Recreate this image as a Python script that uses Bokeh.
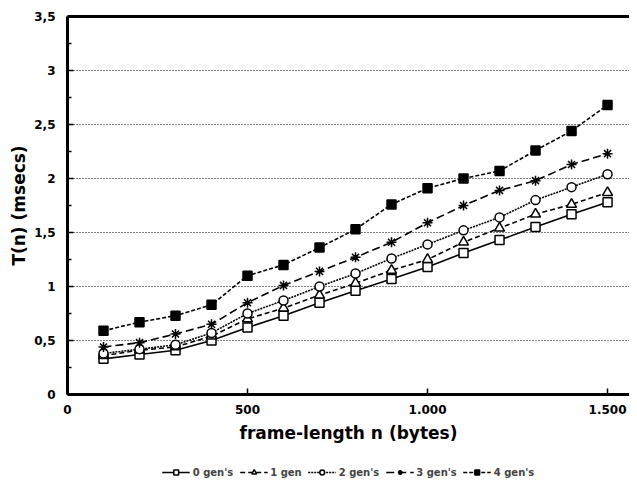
from bokeh.plotting import figure
from bokeh.layouts import column
from bokeh.models import FixedTicker, LinearAxis, Legend, LegendItem, Range1d
from bokeh.embed import file_html
from bokeh.resources import INLINE

frame_length = [100, 200, 300, 400, 500, 600, 700, 800, 900, 1000, 1100, 1200, 1300, 1400, 1500]
gen0 = [0.33, 0.37, 0.41, 0.50, 0.62, 0.73, 0.85, 0.96, 1.07, 1.18, 1.31, 1.43, 1.55, 1.67, 1.78]
gen1 = [0.36, 0.41, 0.44, 0.54, 0.70, 0.80, 0.92, 1.03, 1.15, 1.25, 1.41, 1.54, 1.67, 1.76, 1.87]
gen2 = [0.38, 0.42, 0.46, 0.57, 0.75, 0.87, 1.00, 1.12, 1.26, 1.39, 1.52, 1.64, 1.80, 1.92, 2.04]
gen3 = [0.44, 0.48, 0.56, 0.65, 0.85, 1.01, 1.14, 1.27, 1.41, 1.59, 1.75, 1.89, 1.98, 2.13, 2.23]
gen4 = [0.59, 0.67, 0.73, 0.83, 1.10, 1.20, 1.36, 1.53, 1.76, 1.91, 2.00, 2.07, 2.26, 2.44, 2.68]

series_names = ["0 gen's", "1 gen", "2 gen's", "3 gen's", "4 gen's"]
x_ticks = [0, 500, 1000, 1500]
x_tick_labels = ["0", "500", "1.000", "1.500"]
y_ticks = [0, 0.5, 1, 1.5, 2, 2.5, 3, 3.5]
y_tick_labels = ["0", "0,5", "1", "1,5", "2", "2,5", "3", "3,5"]
y_minor = [0.25, 0.75, 1.25, 1.75, 2.25, 2.75, 3.25]

FONT = "DejaVu Sans"

p = figure(width=629, height=450, output_backend="svg", toolbar_location=None,
           x_range=Range1d(0, 1561), y_range=Range1d(0, 3.5),
           min_border_left=67, min_border_top=16, min_border_right=0, min_border_bottom=56)
p.outline_line_color = None
p.background_fill_color = "white"
p.border_fill_color = "white"

p.xgrid.visible = False
p.ygrid.ticker = FixedTicker(ticks=y_ticks)
p.ygrid.grid_line_color = "black"
p.ygrid.grid_line_dash = "1 2"
p.ygrid.grid_line_width = 1

xa = p.xaxis[0]
xa.ticker = FixedTicker(ticks=x_ticks)
xa.major_label_overrides = dict(zip(x_ticks, x_tick_labels))
xa.axis_label = "frame-length n (bytes)"
ya = p.yaxis[0]
ya.ticker = FixedTicker(ticks=y_ticks, minor_ticks=y_minor)
ya.major_label_overrides = dict(zip(y_ticks, y_tick_labels))
ya.axis_label = "T(n) (msecs)"
for ax in (xa, ya):
    ax.axis_line_width = 3
    ax.axis_line_color = "black"
    ax.major_tick_in = 6
    ax.major_tick_out = 0
    ax.minor_tick_in = 4
    ax.minor_tick_out = 0
    ax.major_tick_line_width = 1.5
    ax.minor_tick_line_width = 1.5
    ax.major_label_text_font = FONT
    ax.major_label_text_font_style = "bold"
    ax.major_label_text_font_size = "12px"
    ax.major_label_text_color = "black"
    ax.axis_label_text_font = FONT
    ax.axis_label_text_font_style = "bold"
    ax.axis_label_text_font_size = "17px"
    ax.axis_label_text_color = "black"
xa.minor_tick_line_color = None
xa.axis_label_standoff = 6
xa.major_label_standoff = 10
ya.axis_label_standoff = 2
ya.major_label_standoff = 12

top = LinearAxis(axis_line_width=3, major_tick_line_color=None, minor_tick_line_color=None,
                 major_label_text_font_size="0px", ticker=FixedTicker(ticks=[]))
p.add_layout(top, "above")

styles = [
    ("solid", "square", "white", 9),
    ("5 3", "triangle", "white", 10),
    ("2 1", "circle", "white", 9),
    ("8 4", "asterisk", "white", 10),
    ("4 2", "square", "black", 9),
]
data = [gen0, gen1, gen2, gen3, gen4]
for ys, (dash, marker, fill, size) in zip(data, styles):
    p.line(frame_length, ys, line_color="black", line_width=1.6, line_dash=dash)
    p.scatter(frame_length, ys, marker=marker, size=size, fill_color=fill,
              line_color="black", line_width=1.5)

# legend strip below the chart (its renderers lie outside its own empty view)
p2 = figure(width=629, height=30, output_backend="svg", toolbar_location=None,
            x_range=Range1d(-1, 0), y_range=Range1d(-1, 0),
            min_border_left=0, min_border_right=0, min_border_top=0, min_border_bottom=0)
p2.axis.visible = False
p2.grid.visible = False
p2.outline_line_color = None
items = []
for name, ys, (dash, marker, fill, size) in zip(series_names, data, styles):
    ln = p2.line(frame_length, ys, line_color="black", line_width=1.6, line_dash=dash)
    sc = p2.scatter(frame_length, ys, marker=marker, size=size - 1, fill_color=fill,
                    line_color="black", line_width=1.5)
    items.append(LegendItem(label=name, renderers=[ln, sc]))

legend = Legend(items=items, orientation="horizontal", location="bottom_center",
                label_text_font=FONT, label_text_font_style="bold",
                label_text_font_size="10px", glyph_width=28, glyph_height=12,
                spacing=6, label_standoff=3, border_line_color=None,
                background_fill_alpha=0, margin=2, padding=2)
p2.add_layout(legend, "center")

layout = column(p, p2, spacing=0)
open("out.html", "w").write(file_html(layout, INLINE))
